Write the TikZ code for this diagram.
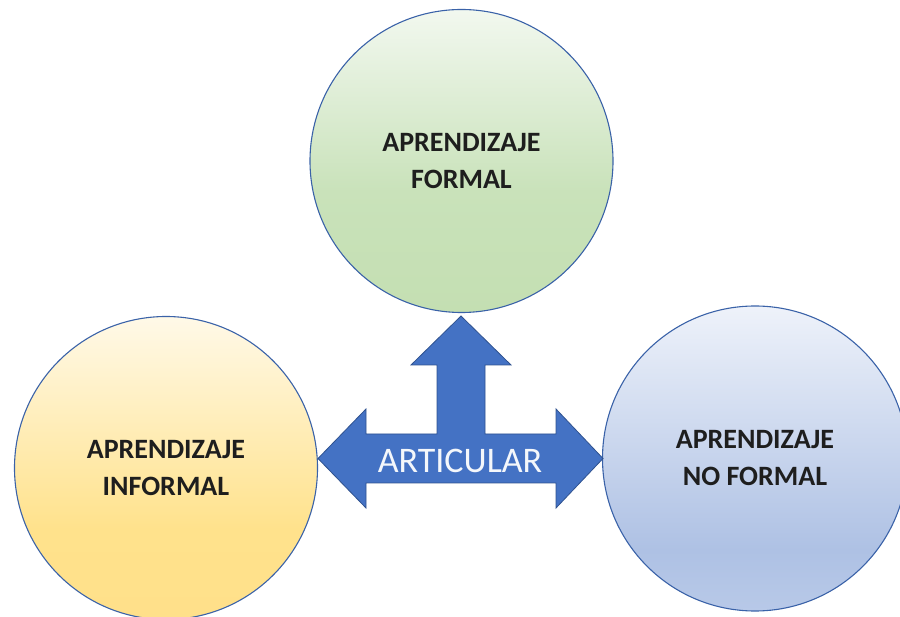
\documentclass[tikz,border=0pt]{standalone}
\usepackage{fontspec}
\setmainfont{Carlito}
\definecolor{ringblue}{HTML}{3A62A8}
\definecolor{arrowfill}{HTML}{4472C4}
\definecolor{arrowline}{HTML}{2F528F}
\definecolor{labeltext}{HTML}{1E1E1E}
\definecolor{gTop}{HTML}{F2F8EF}
\definecolor{gMid}{HTML}{C9E2BA}
\definecolor{gBot}{HTML}{C4DFB2}
\definecolor{yTop}{HTML}{FFF9E8}
\definecolor{yMid}{HTML}{FFE28C}
\definecolor{yBot}{HTML}{FFE08A}
\definecolor{bTop}{HTML}{EEF2FA}
\definecolor{bMid}{HTML}{AEC1E4}
\definecolor{bBot}{HTML}{B8C9E8}
% light vertical gradients (bottom -> top), path box maps to 25bp..75bp
\pgfdeclareverticalshading{greenfill}{100bp}{%
  color(0bp)=(gBot); color(25bp)=(gBot); color(45bp)=(gMid); color(75bp)=(gTop); color(100bp)=(gTop)}
\pgfdeclareverticalshading{yellowfill}{100bp}{%
  color(0bp)=(yBot); color(25bp)=(yBot); color(40bp)=(yMid); color(75bp)=(yTop); color(100bp)=(yTop)}
\pgfdeclareverticalshading{bluefill}{100bp}{%
  color(0bp)=(bBot); color(25bp)=(bBot); color(35bp)=(bMid); color(75bp)=(bTop); color(100bp)=(bTop)}
\tikzset{
  ring/.style={circle, draw=ringblue, line width=1.1pt, minimum size=303pt,
    inner sep=0pt, align=center, text=labeltext,
    font=\fontsize{28}{37}\selectfont\bfseries},
  quadarrow/.style={fill=arrowfill, draw=arrowline, line width=0.8pt, line join=miter},
  arrowlabel/.style={text=white!94!arrowfill, font=\fontsize{36}{40}\selectfont}
}
\begin{document}
\begin{tikzpicture}[x=1pt, y=-1pt]
\useasboundingbox (0,0) rectangle (900,617);
% three learning circles
\node[ring, shading=greenfill] (formal) at (461.5,161) {APRENDIZAJE\\FORMAL};
\node[ring, shading=yellowfill] (informal) at (166,468) {APRENDIZAJE\\INFORMAL};
\node[ring, shading=bluefill, minimum size=305pt] (noformal) at (755,458.5) {APRENDIZAJE\\NO FORMAL};
% three-way arrow joining them
\coordinate (hub) at (461,458.5);
\draw[quadarrow]
  (hub) ++(0,-142.5) coordinate (uptip)
  -- ++(50,49) -- ++(-26,0) -- ++(0,69) -- ++(71,0) -- ++(0,-25)
  -- ++(47,49.5) coordinate (righttip)
  -- ++(-47,49.5) -- ++(0,-25) -- ++(-190,0) -- ++(0,25)
  -- ++(-48,-49.5) coordinate (lefttip)
  -- ++(48,-49.5) -- ++(0,25) -- ++(71,0) -- ++(0,-69) -- ++(-26,0) -- cycle;
\node[arrowlabel] (articular) at (460,461) {ARTICULAR};
\end{tikzpicture}
\end{document}
